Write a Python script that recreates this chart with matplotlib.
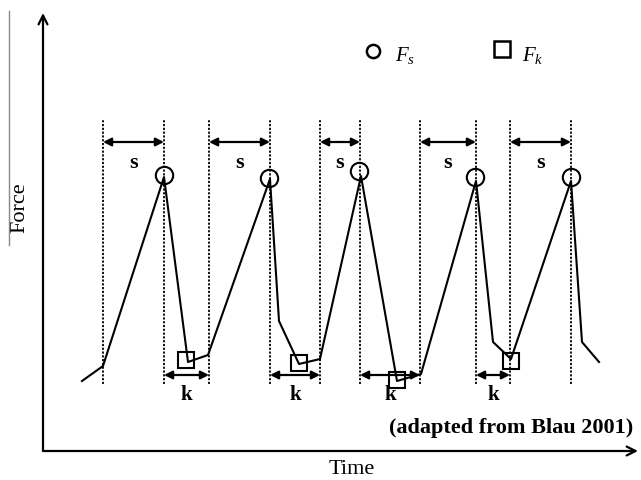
import numpy as np
import matplotlib
matplotlib.use("Agg")
import matplotlib.pyplot as plt
from matplotlib.lines import Line2D

plt.rcParams['font.family'] = ['Liberation Serif', 'DejaVu Serif']
plt.rcParams['mathtext.fontset'] = 'custom'
plt.rcParams['mathtext.rm'] = 'Liberation Serif'
plt.rcParams['mathtext.it'] = 'Liberation Serif:italic'

# ---- force trace (stick-slip) ----
time = [39, 60, 121, 145, 165, 227, 236, 256, 277, 318, 354, 378, 433, 450, 468, 528, 539, 556]
force = [70, 85, 274, 89, 96, 272, 130, 87, 92, 275, 70, 77, 270, 109, 92, 270, 109, 89]

# static friction peaks (circles) and kinetic points (squares)
fs_time = [121, 226, 316, 432, 528]
fs_force = [276, 273, 280, 274, 274]
fk_time = [143, 256, 354, 468]
fk_force = [91, 88, 71, 90]

# dotted guide lines
guide_time = [60, 121, 166, 227, 277, 317, 377, 433, 467, 528]
guide_lo, guide_hi = 67, 332

# interval arrows
s_spans = [(60, 121), (166, 227), (277, 317), (377, 433), (467, 528)]
k_spans = [(121, 166), (227, 277), (317, 377), (433, 467)]
s_level, k_level = 309, 76

fig = plt.figure(figsize=(6.41, 4.81), dpi=100)
ax = fig.add_axes([0, 0, 1, 1])
ax.set_xlim(-43, 598)
ax.set_ylim(-29, 452)
ax.axis('off')

# axes with arrow heads
ax.annotate('', xy=(0, 438), xytext=(0, 0),
            arrowprops=dict(arrowstyle='->', lw=1.6, color='black', shrinkA=0, shrinkB=0,
                            mutation_scale=16))
ax.annotate('', xy=(595, 0), xytext=(0, 0),
            arrowprops=dict(arrowstyle='->', lw=1.6, color='black', shrinkA=0, shrinkB=0,
                            mutation_scale=16))

for t in guide_time:
    ax.plot([t, t], [guide_lo, guide_hi], color='black', lw=1.3, ls=(0, (1.2, 0.9)))

ax.plot(time, force, color='black', lw=1.5)
ax.plot(fs_time, fs_force, ls='none', marker='o', ms=12.5, mfc='none', mec='black', mew=1.5)
ax.plot(fk_time, fk_force, ls='none', marker='s', ms=12, mfc='none', mec='black', mew=1.5)

for a, b in s_spans:
    ax.annotate('', xy=(b, s_level), xytext=(a, s_level),
                arrowprops=dict(arrowstyle='<|-|>', lw=1.6, color='black', shrinkA=0, shrinkB=0,
                                mutation_scale=12))
    ax.text((a + b) / 2, s_level - 20, 's', ha='center', va='center', fontsize=16, fontweight='bold')

for a, b in k_spans:
    ax.annotate('', xy=(b, k_level), xytext=(a, k_level),
                arrowprops=dict(arrowstyle='<|-|>', lw=1.6, color='black', shrinkA=0, shrinkB=0,
                                mutation_scale=12))
    ax.text((a + b) / 2, k_level - 19, 'k', ha='center', va='center', fontsize=15, fontweight='bold')

# legend drawn by hand like in the sketch
ax.plot([330], [400], ls='none', marker='o', ms=9.5, mfc='none', mec='black', mew=1.8)
ax.text(352, 397, '$F_s$', ha='left', va='center', fontsize=15)
ax.plot([459], [402], ls='none', marker='s', ms=12, mfc='none', mec='black', mew=1.8)
ax.text(479, 397, '$F_k$', ha='left', va='center', fontsize=15)

ax.text(-23, 244, 'Force', rotation=90, ha='center', va='center', fontsize=16)
ax.text(309, -18, 'Time', ha='center', va='center', fontsize=16)
ax.text(590, 24, '(adapted from Blau 2001)', ha='right', va='center', fontsize=16,
        fontweight='bold')

fig.add_artist(Line2D([9 / 641, 9 / 641], [1 - 12 / 481, 1 - 246 / 481],
                      color='#888888', lw=1.0))

fig.savefig('out.png', dpi=100)
